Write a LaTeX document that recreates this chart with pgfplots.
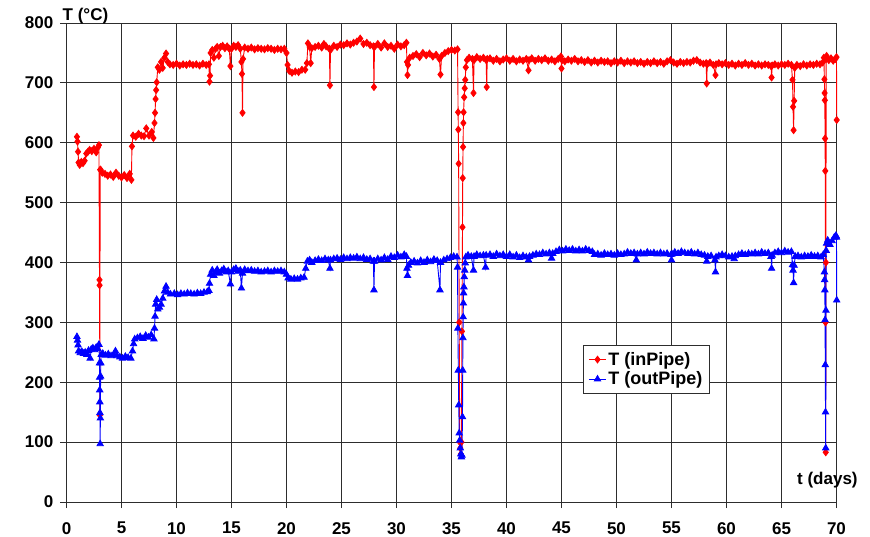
\documentclass[border=0pt]{standalone}
\usepackage{pgfplots}
\pgfplotsset{compat=1.18}
\usepackage{fontspec}
\setmainfont{Liberation Sans}
\definecolor{gridc}{RGB}{45,45,45}

\begin{document}
\begin{tikzpicture}
\begin{axis}[
  name=ax,
  at={(0,0)}, anchor=south west,
  scale only axis,
  width=770pt, height=479pt,
  xmin=0, xmax=70, ymin=0, ymax=800,
  xtick={0,5,...,70}, ytick={0,100,...,800},
  grid=major,
  major grid style={gridc, line width=0.9pt},
  axis line style={gridc, line width=0.9pt},
  tick pos=left, tick align=outside,
  major tick length=6pt,
  tick style={gridc, line width=0.9pt},
  /pgf/number format/assume math mode=true,
  ticklabel style={font=\fontsize{17}{18}\selectfont\bfseries, inner sep=0pt},
  xticklabel style={anchor=north, yshift=-14pt},
  yticklabel style={anchor=east, xshift=-7pt},
  clip=false,
  legend style={at={(0.671,0.328)}, anchor=north west, draw=gridc, line width=0.8pt, fill=white,
    font=\fontsize{18}{21}\selectfont\bfseries, inner xsep=5pt, inner ysep=5pt, row sep=1pt,
    cells={anchor=west}},
  legend image post style={line width=0.8pt},
]
\addplot[red, line width=0.9pt, mark=diamond*, mark size=3.4pt, mark options={solid}] table {
0.95 610
1.0 602
1.05 585
1.1 567
1.2 563
1.35 568
1.5 566
1.65 570
1.8 582
1.95 585
2.1 588
2.3 586
2.5 590
2.7 584
2.85 592
2.95 596
3.0 371
3.01 362
3.03 145
3.06 555
3.1 555
3.25 550
3.5 548
3.75 545
4.0 547
4.25 543
4.5 550
4.75 545
5.0 542
5.25 546
5.5 541
5.75 548
5.9 538
5.95 594
6.05 612
6.3 610
6.55 615
6.8 612
7.05 611
7.25 624
7.5 612
7.75 618
7.9 608
8.0 633
8.05 650
8.1 673
8.15 688
8.2 701
8.3 726
8.45 722
8.6 735
8.75 725
8.9 742
9.05 749
9.2 735
9.4 731
9.7 730
10.0 732
10.3 729
10.6 731
10.9 730
11.2 732
11.5 730
11.8 731
12.1 729
12.4 732
12.7 730
12.95 731
13.0 702
13.05 712
13.1 750
13.25 755
13.4 742
13.55 757
13.7 760
13.85 745
14.0 760
14.2 762
14.4 758
14.6 761
14.8 757
14.9 728
15.0 757
15.2 762
15.4 760
15.6 763
15.8 757
15.9 735
15.95 715
16.0 650
16.05 740
16.2 759
16.5 757
16.8 759
17.1 756
17.4 758
17.7 757
18.0 756
18.3 758
18.6 757
18.9 755
19.2 757
19.5 756
19.8 757
20.0 750
20.1 730
20.25 720
20.5 717
20.8 719
21.1 718
21.4 722
21.7 722
21.85 733
21.95 766
22.1 760
22.2 733
22.3 758
22.6 760
22.9 762
23.2 759
23.4 765
23.6 761
23.9 757
23.95 696
24.0 755
24.3 762
24.6 760
24.9 764
25.2 763
25.5 766
25.8 764
26.1 767
26.4 769
26.7 774
27.0 765
27.3 767
27.6 763
27.9 761
27.95 693
28.0 760
28.3 765
28.6 759
28.9 766
29.2 760
29.5 762
29.8 757
30.1 764
30.4 761
30.7 763
30.9 767
30.95 735
31.0 713
31.05 730
31.2 742
31.5 745
31.8 748
32.1 743
32.4 750
32.7 746
33.0 749
33.3 744
33.6 747
33.9 740
34.0 714
34.1 745
34.4 750
34.7 753
35.0 755
35.3 754
35.55 756
35.6 651
35.62 622
35.65 565
35.7 300
35.75 100
35.8 90
35.85 80
35.9 100
35.95 285
36.0 459
36.02 541
36.05 593
36.08 633
36.1 651
36.15 676
36.2 691
36.25 705
36.3 726
36.4 738
36.6 742
36.9 740
37.0 683
37.05 738
37.3 743
37.6 740
37.9 742
38.15 738
38.2 693
38.25 740
38.5 741
38.8 737
39.1 740
39.4 736
39.7 739
40.0 741
40.3 737
40.6 740
40.9 736
41.2 739
41.5 737
41.8 740
42.0 721
42.05 738
42.3 741
42.6 737
42.9 740
43.2 738
43.5 741
43.8 737
44.1 739
44.4 736
44.7 740
44.95 744
45.0 724
45.05 738
45.3 736
45.6 739
45.9 737
46.2 740
46.5 736
46.8 738
47.1 735
47.4 738
47.7 734
48.0 737
48.3 734
48.6 737
48.9 735
49.2 736
49.5 733
49.8 736
50.1 734
50.4 737
50.7 733
51.0 736
51.3 734
51.6 736
51.9 733
52.2 735
52.5 732
52.8 735
53.1 733
53.4 736
53.7 733
54.0 735
54.3 732
54.6 736
54.9 738
55.2 734
55.5 732
55.8 735
56.1 733
56.4 735
56.7 734
57.0 737
57.3 738
57.6 734
57.9 732
58.15 733
58.2 699
58.25 731
58.5 734
58.8 730
59.0 713
59.05 731
59.3 733
59.6 731
59.9 733
60.2 730
60.5 732
60.8 729
61.1 732
61.4 730
61.7 733
62.0 730
62.3 732
62.6 729
62.9 731
63.2 729
63.5 731
63.8 730
64.05 728
64.1 709
64.15 729
64.4 731
64.7 729
65.0 731
65.3 730
65.6 732
65.9 730
66.0 705
66.05 660
66.1 621
66.15 670
66.2 725
66.4 730
66.7 728
67.0 731
67.3 729
67.6 731
67.9 730
68.2 732
68.5 731
68.75 734
68.85 742
68.9 706
68.92 683
68.94 671
68.96 607
68.98 553
69.0 300
69.02 83
69.04 400
69.06 740
69.1 745
69.3 738
69.5 741
69.7 737
69.9 740
70.0 743
70.02 638
};
\addlegendentry{T (inPipe)}
\addplot[blue, line width=0.9pt, mark=triangle*, mark size=3.6pt, mark options={solid}] table {
0.95 276
1.0 270
1.05 262
1.1 252
1.25 249
1.4 251
1.55 248
1.7 250
1.85 246
2.0 253
2.15 240
2.25 255
2.4 257
2.55 254
2.7 258
2.85 256
2.95 263
3.0 232
3.01 208
3.02 187
3.03 167
3.04 149
3.06 97
3.08 140
3.1 210
3.12 232
3.15 246
3.3 248
3.55 245
3.8 247
4.05 244
4.3 246
4.45 252
4.6 244
4.85 242
5.1 240
5.35 243
5.6 241
5.85 240
6.0 252
6.1 264
6.2 272
6.45 274
6.7 276
6.95 273
7.2 278
7.45 275
7.7 279
7.95 272
8.0 290
8.05 310
8.1 330
8.2 338
8.3 322
8.45 325
8.6 330
8.75 340
8.9 352
9.05 360
9.2 350
9.45 347
9.8 348
10.1 346
10.4 348
10.7 347
11.0 349
11.3 348
11.6 347
11.9 349
12.2 348
12.5 350
12.8 351
12.95 353
13.0 365
13.1 380
13.25 387
13.4 378
13.55 384
13.7 388
13.9 382
14.1 386
14.3 389
14.5 384
14.7 386
14.9 364
15.0 384
15.2 388
15.4 390
15.6 385
15.8 387
15.9 357
16.0 382
16.2 388
16.5 386
16.8 387
17.1 385
17.4 386
17.7 384
18.0 385
18.3 386
18.6 384
18.9 386
19.2 385
19.5 386
19.8 384
20.0 380
20.15 374
20.4 372
20.7 373
21.0 372
21.3 374
21.6 375
21.75 390
21.9 402
22.1 404
22.3 400
22.6 403
22.9 405
23.2 403
23.5 406
23.8 404
23.95 390
24.0 404
24.3 406
24.6 407
24.9 405
25.2 408
25.5 406
25.8 408
26.1 407
26.4 409
26.7 406
27.0 408
27.3 405
27.6 406
27.9 402
27.95 354
28.0 402
28.3 406
28.6 404
28.9 408
29.2 405
29.5 410
29.8 408
30.1 412
30.4 409
30.7 413
30.9 410
30.95 390
31.0 378
31.1 395
31.3 400
31.6 402
31.9 399
32.2 403
32.5 400
32.8 404
33.1 401
33.4 405
33.7 403
33.95 354
34.0 400
34.3 404
34.6 406
34.9 408
35.2 410
35.5 409
35.55 392
35.58 290
35.62 220
35.66 162
35.7 115
35.75 103
35.8 90
35.85 80
35.9 75
35.95 78
36.0 142
36.02 220
36.04 274
36.06 309
36.08 332
36.1 349
36.13 359
36.16 376
36.2 387
36.25 399
36.3 409
36.5 412
36.8 410
37.0 387
37.05 410
37.3 413
37.6 411
37.9 412
38.1 392
38.15 412
38.5 413
38.8 410
39.1 414
39.4 411
39.7 413
40.0 410
40.3 413
40.6 409
40.9 412
41.2 408
41.5 411
41.8 409
42.0 404
42.1 410
42.4 412
42.7 414
43.0 413
43.3 416
43.6 414
43.9 416
44.1 407
44.2 415
44.5 418
44.8 421
45.1 419
45.4 422
45.7 420
46.0 422
46.3 419
46.6 421
46.9 419
47.2 422
47.5 420
47.8 418
48.0 413
48.3 414
48.6 412
48.9 415
49.2 413
49.5 414
49.8 412
50.1 415
50.4 413
50.7 414
51.0 417
51.3 415
51.6 416
51.8 404
51.9 414
52.2 416
52.5 414
52.8 417
53.1 415
53.4 416
53.7 414
54.0 416
54.3 414
54.6 415
54.95 413
55.0 404
55.05 414
55.3 417
55.6 415
55.9 418
56.2 416
56.5 415
56.8 417
57.1 414
57.4 416
57.7 413
58.0 412
58.2 402
58.3 410
58.6 411
58.95 404
59.0 384
59.05 409
59.3 411
59.6 413
59.9 411
60.2 409
60.5 410
60.7 406
60.8 411
61.1 413
61.4 415
61.7 413
62.0 415
62.3 414
62.6 416
62.9 414
63.2 417
63.5 415
63.8 416
64.05 410
64.1 390
64.15 412
64.4 416
64.7 418
65.0 416
65.3 419
65.6 417
65.9 418
66.0 396
66.05 387
66.1 366
66.15 395
66.25 410
66.5 411
66.8 409
67.1 411
67.4 410
67.7 412
68.0 410
68.3 411
68.6 409
68.8 413
68.9 384
68.92 371
68.94 354
68.96 304
68.98 229
69.0 150
69.02 90
69.04 320
69.06 420
69.1 432
69.2 437
69.4 430
69.6 436
69.8 442
69.95 445
70.0 442
70.02 337
};
\addlegendentry{T (outPipe)}
\end{axis}
\node[anchor=base west, inner sep=0pt, font=\fontsize{17}{18}\selectfont\bfseries] at ([shift={(-4pt,3pt)}]ax.north west) {T (°C)};
\node[anchor=base west, inner sep=0pt, font=\fontsize{17}{18}\selectfont\bfseries] at ([shift={(730.5pt,18pt)}]ax.south west) {t (days)};
\pgfresetboundingbox
\useasboundingbox ([shift={(-66.5pt,-34pt)}]ax.south west) rectangle ([shift={(803.5pt,502pt)}]ax.south west);
\end{tikzpicture}
\end{document}
